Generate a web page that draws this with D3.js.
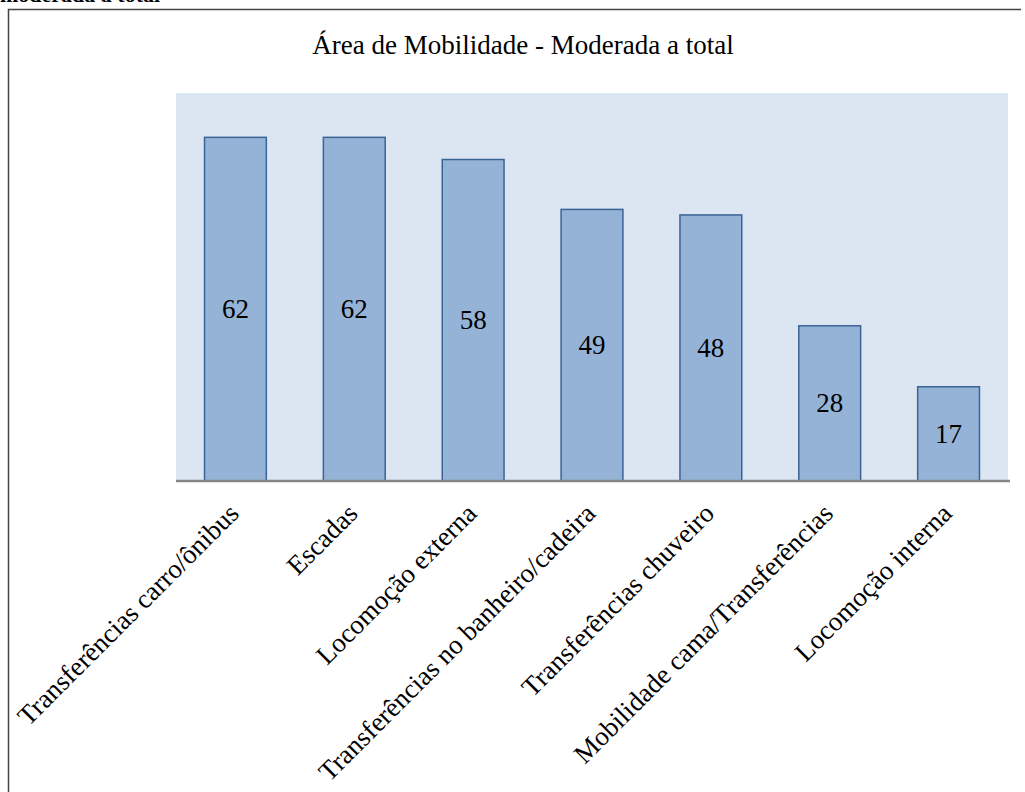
<!DOCTYPE html>
<html>
<head>
<meta charset="utf-8">
<script src="https://d3js.org/d3.v7.min.js"></script>
<style>
  body { margin: 0; background: #fff; }
  svg { display: block; }
  svg text { font-family: 'Liberation Serif', 'Times New Roman', serif; }
</style>
</head>
<body>
<div id="chart"></div>
<script>
// categories and values
const categories = [
    'Transferências carro/ônibus',
    'Escadas',
    'Locomoção externa',
    'Transferências no banheiro/cadeira',
    'Transferências chuveiro',
    'Mobilidade cama/Transferências',
    'Locomoção interna'
];
const values = [62, 62, 58, 49, 48, 28, 17];
const yMax = 70;
const chartTitle = 'Área de Mobilidade - Moderada a total';
const cutTitle = 'moderada a total';

const W = 1025, H = 792;
const plot = { left: 176, top: 93, right: 1008, bottom: 481 };

const svg = d3.select('#chart').append('svg')
    .attr('width', W)
    .attr('height', H);

// caption text cut by the top edge of the page
svg.append('text')
    .attr('x', 0)
    .attr('y', 2)
    .style('font-size', '22px')
    .style('font-weight', 'bold')
    .text(cutTitle);

// outer frame
svg.append('path')
    .attr('d', `M8.5,${H + 2} L8.5,9.5 L1021,9.5`)
    .attr('fill', 'none')
    .attr('stroke', '#444')
    .attr('stroke-width', 1.5);

const x = d3.scaleBand()
    .domain(categories)
    .range([plot.left, plot.right])
    .paddingInner(0.48)
    .paddingOuter(0.24);

const y = d3.scaleLinear()
    .domain([0, yMax])
    .range([plot.bottom, plot.top]);

// plot background
svg.append('rect')
    .attr('x', plot.left)
    .attr('y', y(yMax))
    .attr('width', plot.right - plot.left)
    .attr('height', y(0) - y(yMax))
    .attr('fill', '#dce6f2');

// title
svg.append('text')
    .attr('x', 523)
    .attr('y', 54)
    .attr('text-anchor', 'middle')
    .style('font-size', '27px')
    .text(chartTitle);

// bars
svg.selectAll('rect.bar')
    .data(values)
    .join('rect')
    .attr('class', 'bar')
    .attr('x', (d, i) => x(categories[i]))
    .attr('y', d => y(d))
    .attr('width', x.bandwidth())
    .attr('height', d => y(0) - y(d))
    .attr('fill', '#95b3d7')
    .attr('stroke', '#3a6396')
    .attr('stroke-width', 1.5);

// value labels in the middle of each bar
svg.selectAll('text.val')
    .data(values)
    .join('text')
    .attr('class', 'val')
    .attr('x', (d, i) => x(categories[i]) + x.bandwidth() / 2)
    .attr('y', d => (y(d) + y(0)) / 2 + 9)
    .attr('text-anchor', 'middle')
    .style('font-size', '27px')
    .text(d => d);

// x axis line
const xAxis = svg.append('g')
    .attr('transform', `translate(0,${plot.bottom})`)
    .call(d3.axisBottom(x).tickSize(0).tickFormat(''));
xAxis.select('.domain')
    .attr('d', `M${plot.left},0H${plot.right + 2}`)
    .attr('stroke', '#868686')
    .attr('stroke-width', 2.5);

// rotated category labels
svg.selectAll('text.cat')
    .data(categories)
    .join('text')
    .attr('class', 'cat')
    .attr('transform', d => `translate(${x(d) + x.bandwidth() / 2 + 5},${plot.bottom + 34}) rotate(-45)`)
    .attr('text-anchor', 'end')
    .style('font-size', '27px')
    .text(d => d);
</script>
</body>
</html>
